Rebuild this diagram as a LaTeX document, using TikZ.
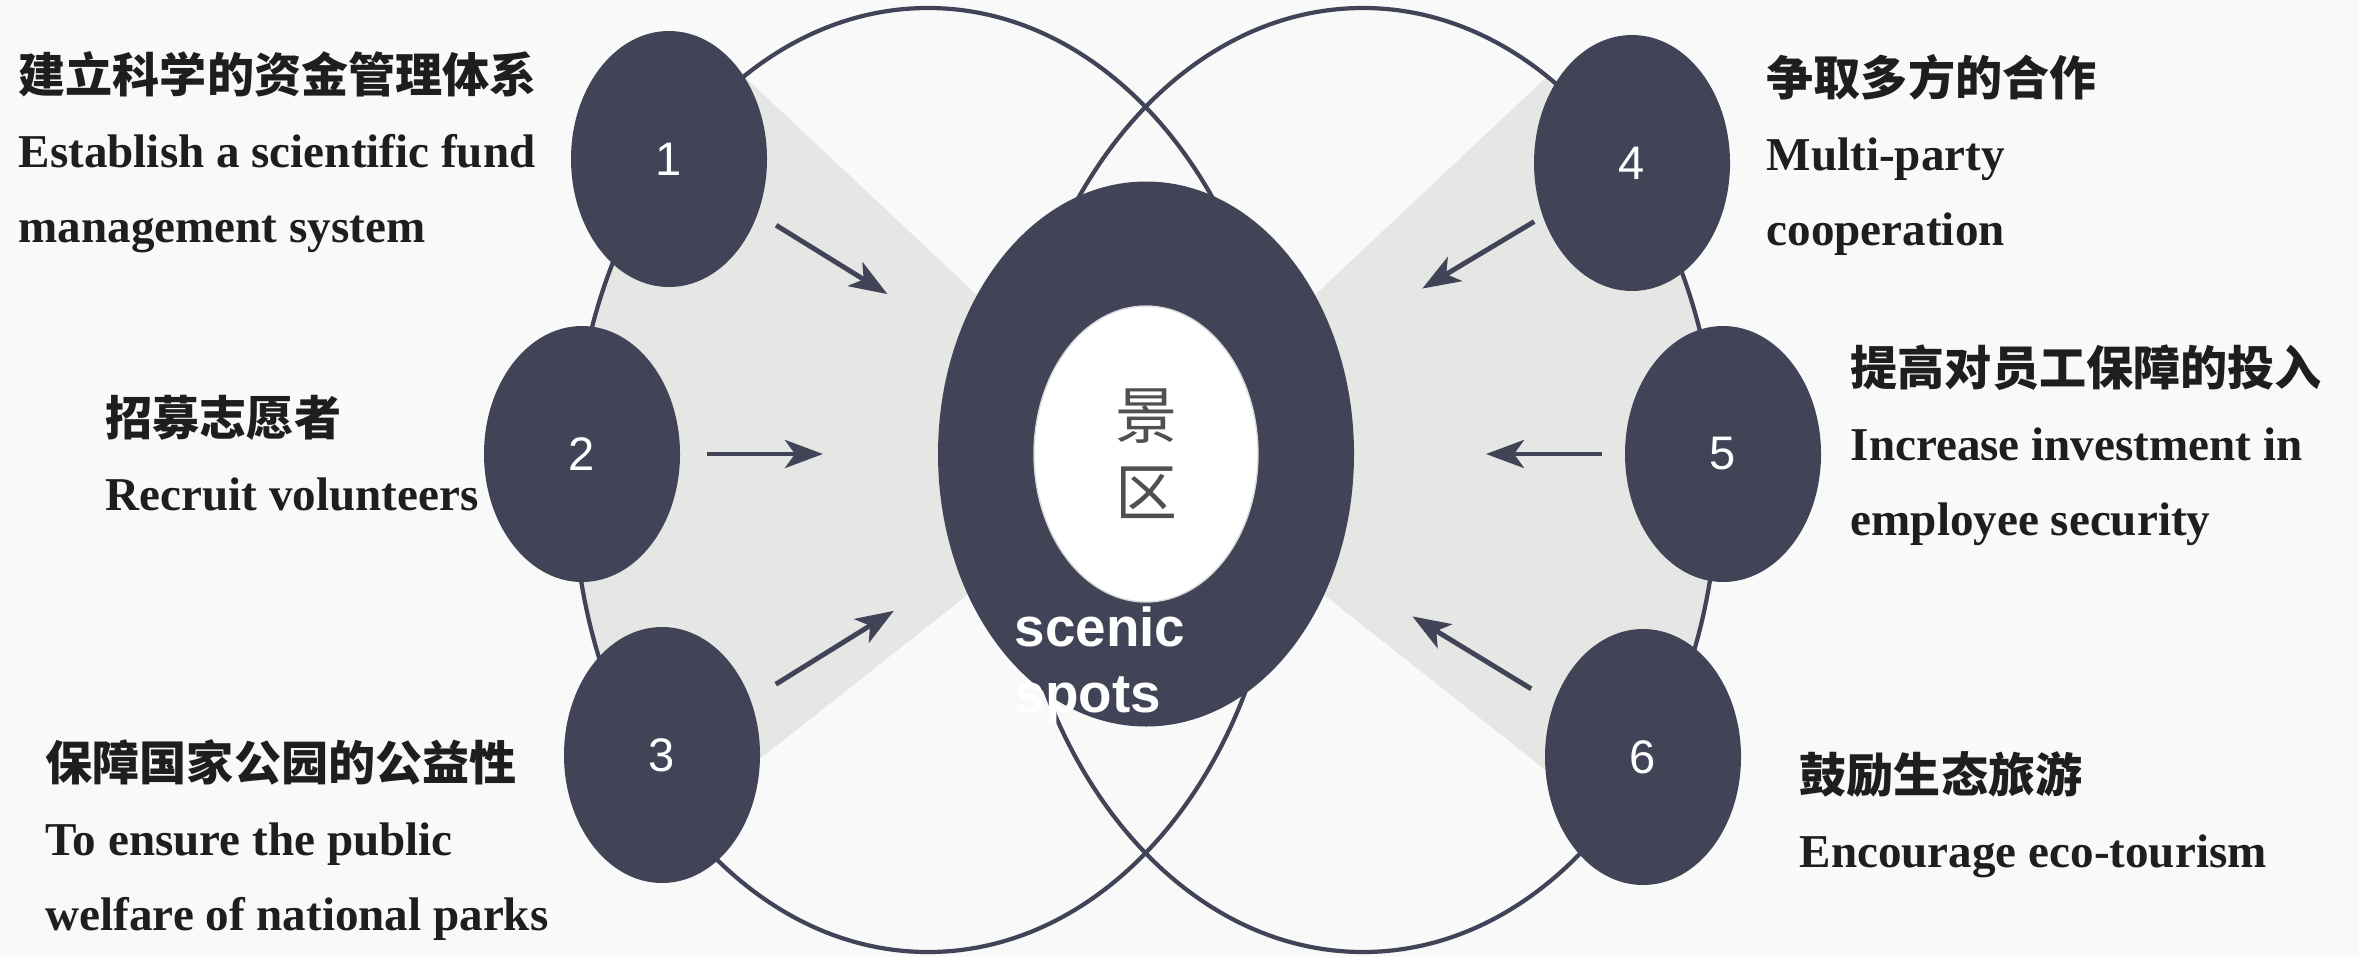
\documentclass[tikz,border=0pt]{standalone}
\usepackage{fontspec}
\setmainfont{Liberation Serif}
\newfontfamily\cjk{Noto Sans CJK SC}
\newfontfamily\numfont{Liberation Sans}
\usetikzlibrary{positioning,shapes.geometric,arrows.meta}
\definecolor{slate}{RGB}{65,68,86}
\definecolor{paper}{RGB}{249,249,249}
\definecolor{wedge}{RGB}{230,230,228}
\definecolor{ink}{RGB}{30,30,30}
\definecolor{hubtext}{RGB}{80,80,80}

\tikzset{
  spot/.style={ellipse, fill=slate, minimum width=1.96cm, minimum height=2.56cm,
    inner sep=0pt, text=white, font=\numfont\fontsize{13.4}{16}\selectfont},
  note/.style={anchor=base west, align=left, text=ink, inner sep=0pt,
    font=\fontsize{13.4}{21.3}\selectfont\bfseries},
  push/.style={draw=slate, line width=1.4pt,
    -{Stealth[length=3.8mm,width=2.8mm,inset=1mm]}},
  rim/.style={draw=slate, line width=1.2pt}
}

\begin{document}
\begin{tikzpicture}
		% Background
		\fill[paper] (0,0) rectangle (23.59,9.57);
		\useasboundingbox (0,0) rectangle (23.59,9.57);
		\coordinate (hubc) at (11.46,5.03);
		
		% Grey wedges inside the two big rings
		\begin{scope}
			\clip (9.28,4.77) ellipse [x radius=3.55, y radius=4.72];
			\fill[wedge] (hubc) -- (5,11.1) -- (5,-0.07) -- cycle;
		\end{scope}
		\begin{scope}
			\clip (13.63,4.77) ellipse [x radius=3.55, y radius=4.72];
			\fill[wedge] (hubc) -- (17.91,11.1) -- (17.91,-0.07) -- cycle;
		\end{scope}
		\draw[rim] (9.28,4.77) ellipse [x radius=3.55, y radius=4.72];
		\draw[rim] (13.63,4.77) ellipse [x radius=3.55, y radius=4.72];
		
		% Define hub
		\node[ellipse, fill=slate, minimum width=4.16cm, minimum height=5.45cm, inner sep=0pt] (ring) at (hubc) {};
		\node[ellipse, fill=white, draw=black!15, minimum width=2.24cm, minimum height=2.96cm, inner sep=0pt,
			align=center, text=hubtext, font=\cjk\fontsize{17.6}{21.9}\selectfont] (core) at (ring) {景\\区};
		\node[anchor=base west, align=left, inner sep=0pt, text=white,
			font=\numfont\bfseries\fontsize{15.6}{18.5}\selectfont] (tag) at (10.14,2.45) {scenic\\spots};
		
		% Define measures
		\begin{scope}[on grid]
			\node[spot, above left=2.95cm and 4.77cm of ring] (e1) {1};
			\node[spot, left=5.64cm of ring] (e2) {2};
			\node[spot, below left=3.01cm and 4.84cm of ring] (e3) {3};
			\node[spot, above right=2.91cm and 4.86cm of ring] (e4) {4};
			\node[spot, right=5.77cm of ring] (e5) {5};
			\node[spot, below right=3.03cm and 4.97cm of ring] (e6) {6};
		\end{scope}
		
		% Draw arrows
		\draw[push, shorten <=1.26cm, shorten >=3.04cm] (e1.center) -- (ring.center);
		\draw[push, shorten <=1.25cm, shorten >=3.23cm] (e2.center) -- (ring.center);
		\draw[push, shorten <=1.34cm, shorten >=2.97cm] (e3.center) -- (ring.center);
		\draw[push, shorten <=1.14cm, shorten >=3.22cm] (e4.center) -- (ring.center);
		\draw[push, shorten <=1.21cm, shorten >=3.40cm] (e5.center) -- (ring.center);
		\draw[push, shorten <=1.31cm, shorten >=3.12cm] (e6.center) -- (ring.center);
		
		% Texts
		\node[note] (t1) at (0.18,7.15) {{\cjk 建立科学的资金管理体系}\\Establish a scientific fund\\management system};
		\node[note] (t2) at (1.05,4.47) {{\cjk 招募志愿者}\\Recruit volunteers};
		\node[note] (t3) at (0.45,0.27) {{\cjk 保障国家公园的公益性}\\To ensure the public\\welfare of national parks};
		\node[note] (t4) at (17.66,7.12) {{\cjk 争取多方的合作}\\Multi-party\\cooperation};
		\node[note] (t5) at (18.50,4.22) {{\cjk 提高对员工保障的投入}\\Increase investment in\\employee security};
		\node[note] (t6) at (17.99,0.90) {{\cjk 鼓励生态旅游}\\Encourage eco-tourism};
\end{tikzpicture}
\end{document}
